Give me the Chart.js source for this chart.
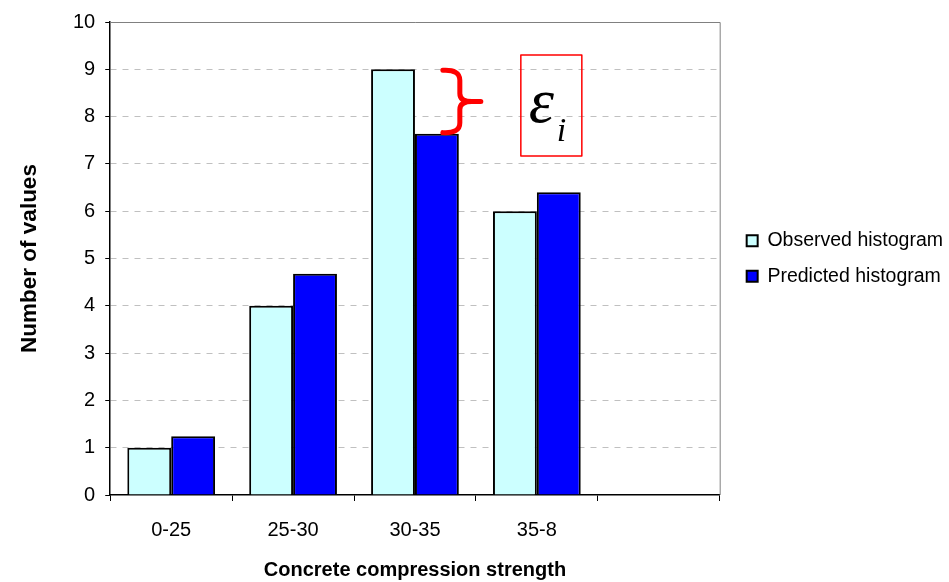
<!DOCTYPE html>
<html>
<head>
<meta charset="utf-8">
<script src="https://cdn.jsdelivr.net/npm/chart.js@4.4.1/dist/chart.umd.min.js"></script>
<style>
  html, body { margin: 0; padding: 0; background: #fff; overflow: hidden; }
  #wrap { width: 949px; height: 582px; }
</style>
</head>
<body>
<div id="wrap"><canvas id="grafica"></canvas></div>
<script>
// datos
const categorias = ['0-25', '25-30', '30-35', '35-8', ''];
const observado = [1, 4, 9, 6, null];
const predicho = [1.24, 4.68, 7.64, 6.4, null];
const yTicks = [0, 1, 2, 3, 4, 5, 6, 7, 8, 9, 10];

const fuente = "'Liberation Sans', Arial, sans-serif";

// borde gris del area de trazado + llave roja y recuadro epsilon
const extras = {
  id: 'extras',
  afterDatasetsDraw(chart) {
    const { ctx, chartArea: a, scales: { y } } = chart;
    ctx.save();
    // borde superior y derecho
    ctx.strokeStyle = '#808080';
    ctx.lineWidth = 1;
    ctx.beginPath();
    ctx.moveTo(a.left, a.top + 0.5);
    ctx.lineTo(a.right + 0.5, a.top + 0.5);
    ctx.lineTo(a.right + 0.5, a.bottom);
    ctx.stroke();

    // llave entre observado y predicho de 30-35
    const barra = chart.getDatasetMeta(1).data[2];
    const xr = barra.x + barra.width / 2;
    const yTop = y.getPixelForValue(observado[2]) + 1;
    const yBot = y.getPixelForValue(predicho[2]) - 1;
    const yMid = (yTop + yBot) / 2;
    const xs = xr + 1;
    ctx.strokeStyle = '#ff0000';
    ctx.lineWidth = 5;
    ctx.lineCap = 'round';
    ctx.lineJoin = 'round';
    ctx.beginPath();
    ctx.moveTo(xr - 16, yTop);
    ctx.quadraticCurveTo(xs, yTop - 1, xs, yTop + 10);
    ctx.lineTo(xs, yMid - 8);
    ctx.quadraticCurveTo(xs, yMid, xs + 12, yMid);
    ctx.lineTo(xs + 21, yMid);
    ctx.moveTo(xs + 12, yMid);
    ctx.quadraticCurveTo(xs, yMid, xs, yMid + 8);
    ctx.lineTo(xs, yBot - 10);
    ctx.quadraticCurveTo(xs, yBot + 1, xr - 16, yBot);
    ctx.stroke();

    // recuadro con epsilon_i
    const bx = xr + 62, by = y.getPixelForValue(9.3), bw = 61, bh = 101;
    ctx.lineWidth = 1.5;
    ctx.strokeRect(bx, by, bw, bh);
    ctx.fillStyle = '#000';
    ctx.textBaseline = 'alphabetic';
    ctx.font = "italic 64px 'Liberation Serif', 'DejaVu Serif', serif";
    ctx.fillText('\u03B5', bx + 8, by + 67);
    ctx.font = "italic 34px 'Liberation Serif', 'DejaVu Serif', serif";
    ctx.fillText('i', bx + 36, by + 86);
    ctx.restore();
  }
};

const ctx = document.getElementById('grafica').getContext('2d');
new Chart(ctx, {
  type: 'bar',
  data: {
    labels: categorias,
    datasets: [
      {
        label: 'Observed histogram',
        data: observado,
        backgroundColor: '#CCFFFF',
        borderColor: '#000',
        borderWidth: 2,
        categoryPercentage: 0.72,
        barPercentage: 1.0
      },
      {
        label: 'Predicted histogram',
        data: predicho,
        backgroundColor: '#0000FF',
        borderColor: '#000',
        borderWidth: 2,
        categoryPercentage: 0.72,
        barPercentage: 1.0
      }
    ]
  },
  options: {
    responsive: true,
    maintainAspectRatio: false,
    animation: false,
    layout: { padding: { left: 6, top: 21, right: -4, bottom: 0 } },
    plugins: {
      tooltip: { enabled: false },
      legend: {
        position: 'right',
        align: 'center',
        fullSize: false,
        maxWidth: 260,
        labels: {
          boxWidth: 11,
          boxHeight: 11,
          padding: 16,
          color: '#000',
          font: { family: fuente, size: 19.5 }
        }
      }
    },
    scales: {
      x: {
        grid: {
          offset: true,
          drawOnChartArea: false,
          drawTicks: true,
          tickLength: 6,
          tickColor: '#000'
        },
        border: { color: '#000', width: 1.5 },
        ticks: { color: '#000', padding: 17, font: { family: fuente, size: 20 } },
        title: {
          display: true,
          text: 'Concrete compression strength',
          color: '#000',
          padding: { top: -1, bottom: 0 },
          font: { family: fuente, size: 20, weight: 'bold' }
        }
      },
      y: {
        min: 0,
        max: 10,
        afterBuildTicks: (s) => { s.ticks = yTicks.map(v => ({ value: v })); },
        grid: {
          color: (c) => (c.tick && (c.tick.value === 0 || c.tick.value === 10)) ? 'rgba(0,0,0,0)' : '#C0C0C0',
          tickColor: '#000',
          tickLength: 5
        },
        border: { color: '#000', width: 1.5, dash: [6, 6] },
        ticks: { color: '#000', padding: 10, font: { family: fuente, size: 20 } },
        title: {
          display: true,
          text: 'Number of values',
          color: '#000',
          padding: { top: 10, bottom: 20 },
          font: { family: fuente, size: 22.5, weight: 'bold' }
        }
      },
      // eje vacio: solo separa el area de trazado de la leyenda
      yHueco: {
        type: 'linear',
        position: 'right',
        display: true,
        grid: { display: false },
        border: { display: false },
        ticks: { display: false },
        afterFit: (s) => { s.width = 11; }
      }
    }
  },
  plugins: [extras]
});
</script>
</body>
</html>
